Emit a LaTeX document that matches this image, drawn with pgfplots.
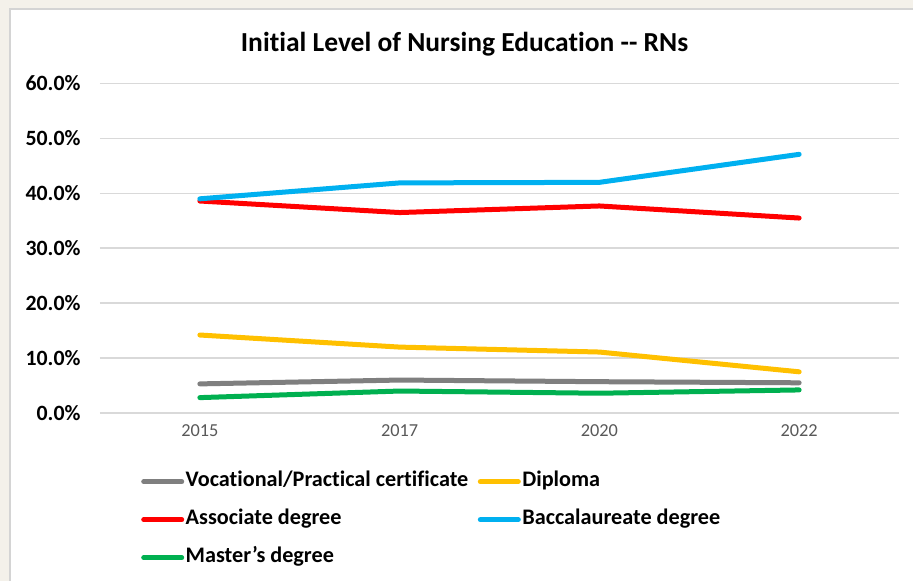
\documentclass[border=0pt]{standalone}
\usepackage{pgfplots}
\pgfplotsset{compat=1.18}
\usepackage{fontspec}
\setmainfont{Carlito}[Ligatures={NoCommon}]
\definecolor{cgray}{HTML}{7F7F7F}
\definecolor{cyellow}{HTML}{FFC000}
\definecolor{cred}{HTML}{FF0000}
\definecolor{cblue}{HTML}{00B0F0}
\definecolor{cgreen}{HTML}{00B050}
\definecolor{gridc}{HTML}{D9D9D9}
\definecolor{bgbeige}{RGB}{244,241,234}
\definecolor{borderc}{HTML}{D4D4D4}
\definecolor{xlab}{HTML}{595959}
\begin{document}
\begin{tikzpicture}[x=1pt,y=1pt]
\useasboundingbox (0,0) rectangle (913,581);
\fill[bgbeige] (0,0) rectangle (913,581);
\fill[white] (10,0) rectangle (913,572);
\draw[borderc, line width=2pt] (10,0) -- (10,572) -- (913,572);
\node[font=\fontsize{27.5}{32}\selectfont\bfseries] at (464.5,537) {Initial Level of Nursing Education -{}- RNs};
\begin{axis}[
  at={(100pt,168pt)}, anchor=south west,
  scale only axis, width=799pt, height=329.5pt,
  xmin=-0.5, xmax=3.5, ymin=0, ymax=60,
  xtick={0,1,2,3}, xticklabels={2015,2017,2020,2022},
  ytick={0,10,20,30,40,50,60},
  axis line style={draw=none},
  major tick length=0pt,
  xmajorgrids=false, ymajorgrids=true,
  major grid style={gridc, line width=1.6pt},
  /pgf/number format/assume math mode=true,
  yticklabel={\pgfmathprintnumber[fixed,fixed zerofill,precision=1]{\tick}\%},
  yticklabel style={font=\fontsize{21.8}{26}\selectfont\bfseries, anchor=east, xshift=-16pt},
  xticklabel style={font=\fontsize{18.3}{22}\selectfont, text=xlab, yshift=-8pt},
  legend columns=2,
  legend style={at={(0.0476,-0.167)}, anchor=north west, draw=none, fill=none,
    font=\fontsize{22.2}{26}\selectfont\bfseries,
    nodes={anchor=west, inner sep=1.5pt, text height=15pt, text depth=5pt},
    row sep=15pt,
    /tikz/every even column/.append style={column sep=8pt}},
  legend image code/.code={\draw[#1, line cap=round] (0pt,0pt) -- (38pt,0pt);},
  every axis plot/.append style={line width=5pt, line cap=round, line join=round},
  clip=false,
]
\addplot[cgray] coordinates {(0,5.3) (1,6.0) (2,5.7) (3,5.5)};
\addlegendentry{Vocational/Practical certificate}
\addplot[cyellow] coordinates {(0,14.2) (1,12.0) (2,11.1) (3,7.5)};
\addlegendentry{Diploma}
\addplot[cred] coordinates {(0,38.6) (1,36.5) (2,37.7) (3,35.5)};
\addlegendentry{Associate degree}
\addplot[cblue] coordinates {(0,39.0) (1,41.9) (2,42.0) (3,47.1)};
\addlegendentry{Baccalaureate degree}
\addplot[cgreen] coordinates {(0,2.8) (1,4.0) (2,3.6) (3,4.2)};
\addlegendentry{Master’s degree}
\end{axis}
\end{tikzpicture}
\end{document}
